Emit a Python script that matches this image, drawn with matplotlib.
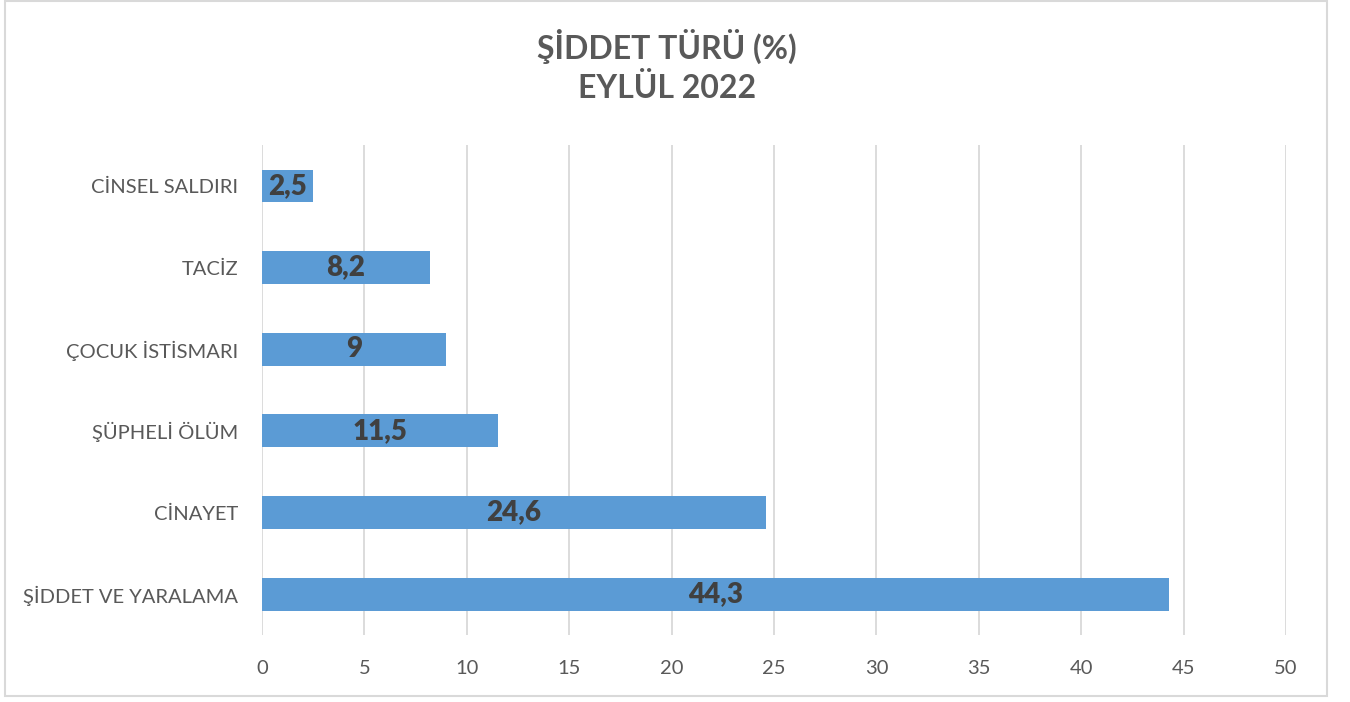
import matplotlib
matplotlib.use("Agg")
import matplotlib.pyplot as plt
from matplotlib.patches import Rectangle

categories = ["ŞİDDET VE YARALAMA", "CİNAYET", "ŞÜPHELİ ÖLÜM", "ÇOCUK İSTİSMARI", "TACİZ", "CİNSEL SALDIRI"]
values = [44.3, 24.6, 11.5, 9, 8.2, 2.5]
labels = ["44,3", "24,6", "11,5", "9", "8,2", "2,5"]
xticks = [0, 5, 10, 15, 20, 25, 30, 35, 40, 45, 50]

plt.rcParams['font.family'] = ['Lato', 'DejaVu Sans']

fig = plt.figure(figsize=(13.5, 7.02), dpi=100)
ax = fig.add_axes([262/1350, 1-635/702, (1286-262)/1350, (635-145)/702])

ypos = list(range(len(categories)))
ax.barh(ypos, values, height=0.4, color="#5B9BD5", zorder=3)
for y, v, lab in zip(ypos, values, labels):
    ax.text(v/2, y, lab, ha="center", va="center", fontsize=20, fontweight="heavy",
            color="#404040", zorder=4)

ax.set_xlim(0, 50)
ax.set_ylim(-0.5, len(categories)-0.5)
ax.set_xticks(xticks)
ax.set_xticklabels([str(t) for t in xticks])
ax.set_yticks(ypos)
ax.set_yticklabels(categories)
ax.tick_params(axis="both", length=0, labelsize=14.5, labelcolor="#595959")
ax.tick_params(axis="x", pad=18)
ax.tick_params(axis="y", pad=17)
ax.grid(axis="x", color="#D9D9D9", linewidth=1.3, zorder=0)
for s in ax.spines.values():
    s.set_visible(False)

fig.text(667/1350, 1-46/702, "ŞİDDET TÜRÜ (%)", ha="center", va="center",
         fontsize=23, fontweight="bold", color="#595959")
fig.text(667/1350, 1-88/702, "EYLÜL 2022", ha="center", va="center",
         fontsize=23, fontweight="bold", color="#595959")

fig.patches.append(Rectangle((5/1350, 1-696/702), (1327-5)/1350, 696/702 - 0.001,
                             transform=fig.transFigure, fill=False,
                             edgecolor="#D9D9D9", linewidth=1.5))

fig.savefig("out.png", dpi=100)
